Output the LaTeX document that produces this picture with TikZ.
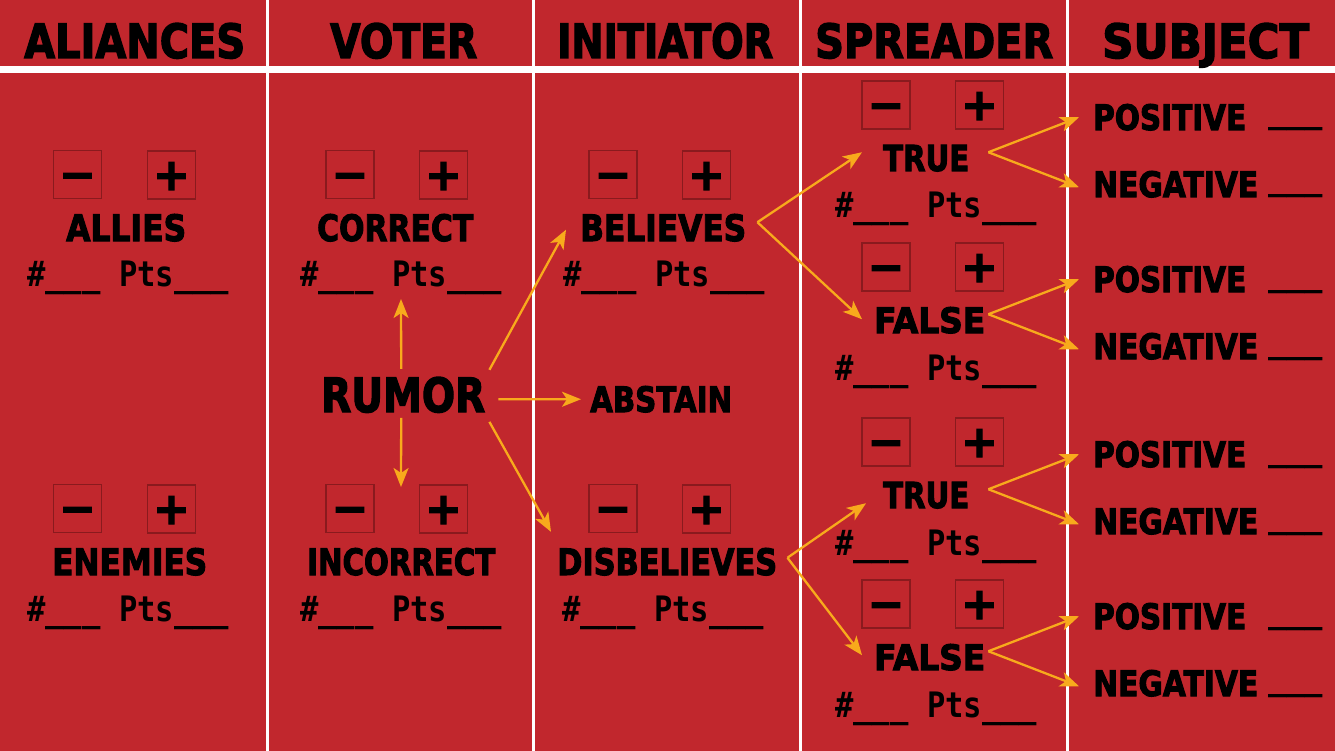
\documentclass[tikz,border=0pt]{standalone}
\usepackage{fontspec}
\usepackage{graphicx}
\setmainfont{DejaVu Sans}
\newfontfamily\heavyfont{DejaVu Sans}[BoldFeatures={FakeBold=3}]
\newfontfamily\scorefont{DejaVu Sans Mono}
\usetikzlibrary{arrows.meta,calc}

\definecolor{bgred}{RGB}{193,39,45}
\definecolor{boxred}{RGB}{138,26,30}
\definecolor{arrowgold}{RGB}{248,170,28}

% heavy capital label stretched to a given width and cap height
\newcommand\blk[3]{\resizebox{#1pt}{#2pt}{\heavyfont\bfseries #3}}
% score line and answer blank
\newcommand\ptsline{\scalebox{1}[1.15]{\scorefont\bfseries\fontsize{30.5}{30.5}\selectfont\#\_\_\_ Pts\_\_\_}}
\newcommand\scoreblank{\scalebox{1}[1.15]{\scorefont\bfseries\fontsize{30.5}{30.5}\selectfont\_\_\_}}

\tikzset{
  lab/.style={anchor=base west, inner sep=0pt, text=black},
  signbox/.style={draw=boxred, minimum size=48pt, inner sep=0pt, text=black,
    font=\heavyfont\fontsize{44}{44}\selectfont\bfseries, text height=30pt, text depth=0pt},
  minusbox/.style={signbox, line width=1.8pt},
  plusbox/.style={signbox, line width=1.2pt},
  arr/.style={draw=arrowgold, line width=2.3pt,
    -{Stealth[length=19pt,width=15pt,inset=5pt]}},
}

\begin{document}
\begin{tikzpicture}[x=1pt,y=-1pt]
  \fill[bgred] (0,0) rectangle (1335,751);
  \useasboundingbox (0,0) rectangle (1335,751);

  % column rules and header rule
  \fill[white] (0,66) rectangle (1335,73);
  \foreach \x in {267,533.5,800,1067}
    \fill[white] (\x-1.5,0) rectangle (\x+1.5,751);

  % headers
  \node[lab] (hAl) at (24,58)   {\blk{221}{35}{ALIANCES}};
  \node[lab] (hVo) at (330,58)  {\blk{147}{35}{VOTER}};
  \node[lab] (hIn) at (557,58)  {\blk{216}{35}{INITIATOR}};
  \node[lab] (hSp) at (815,58)  {\blk{238}{35}{SPREADER}};
  \node[lab] (hSu) at (1102,58) {\blk{207}{35}{SUBJECT}};

  % alliances column
  \node[minusbox] (am1) at (77.5,174.5) {−};
  \node[plusbox]  (ap1) at (171.5,175)  {+};
  \node[lab] (allies) at (66,241) {\blk{120}{27}{ALLIES}};
  \node[lab] (apts1) at (27,287) {\ptsline};
  \node[minusbox] (am2) at (77.5,508.5) {−};
  \node[plusbox]  (ap2) at (171.5,509)  {+};
  \node[lab] (enemies) at (52,575) {\blk{155}{27}{ENEMIES}};
  \node[lab] (apts2) at (27,621) {\ptsline};

  % voter column
  \node[minusbox] (vm1) at (350,174.5) {−};
  \node[plusbox]  (vp1) at (443.5,175) {+};
  \node[lab] (correct) at (317,241) {\blk{156}{27}{CORRECT}};
  \node[lab] (vpts1) at (300,287) {\ptsline};
  \node[lab] (rumor) at (321,412) {\blk{164}{35}{RUMOR}};
  \node[minusbox] (vm2) at (350,508.5) {−};
  \node[plusbox]  (vp2) at (443.5,509) {+};
  \node[lab] (incorrect) at (307,575) {\blk{188}{27}{INCORRECT}};
  \node[lab] (vpts2) at (300,621) {\ptsline};

  % initiator column
  \node[minusbox] (im1) at (613,174.5) {−};
  \node[plusbox]  (ip1) at (706.5,175) {+};
  \node[lab] (believes) at (580,241) {\blk{166}{27}{BELIEVES}};
  \node[lab] (ipts1) at (563,287) {\ptsline};
  \node[lab] (abstain) at (590,412) {\blk{142}{26}{ABSTAIN}};
  \node[minusbox] (im2) at (613,508.5) {−};
  \node[plusbox]  (ip2) at (706.5,509) {+};
  \node[lab] (disbelieves) at (557,575) {\blk{220}{27}{DISBELIEVES}};
  \node[lab] (ipts2) at (562,621) {\ptsline};

  % spreader blocks with their subject outcomes
  \foreach \k/\o/\lx/\w/\lbl/\d in {1/-162/883/86/TRUE/19, 2/0/874/111/FALSE/3,
                                    3/175/883/86/TRUE/19, 4/337/874/111/FALSE/3}{
    \node[minusbox] (sm\k) at (886,267+\o) {−};
    \node[plusbox]  (sp\k) at (979.5,267+\o) {+};
    \node[lab] (sv\k) at (\lx,333+\o) {\blk{\w}{26}{\lbl}};
    \node[lab] (spts\k) at (835,380+\o) {\ptsline};
    \node[lab] (pos\k) at (1093,292+\o) {\blk{153}{26}{POSITIVE}};
    \node[lab] (posb\k) at (1268,285+\o) {\scoreblank};
    \node[lab] (neg\k) at (1093,359+\o) {\blk{165}{26}{NEGATIVE}};
    \node[lab] (negb\k) at (1268,352+\o) {\scoreblank};
    \draw[arr] ($(sv\k.east)+(\d,-6)$) -- ($(pos\k.west)+(-14,0)$);
    \draw[arr] ($(sv\k.east)+(\d,-6)$) -- ($(neg\k.west)+(-14,3)$);
  }

  % rumor spreading out
  \coordinate (rumorup) at (401,299);
  \coordinate (rumordown) at (401,487);
  \draw[arr] ($(rumor.north)+(-2,-8)$) -- (rumorup);
  \draw[arr] ($(rumor.south)+(-2,5)$) -- (rumordown);
  \draw[arr] ($(rumor.east)+(13,4.5)$) -- ($(abstain.west)+(-9,0)$);
  \draw[arr] ($(rumor.north east)+(4,-7)$) -- ($(believes.south west)+(-14,-12)$);
  \draw[arr] ($(rumor.south east)+(4,9)$) -- ($(disbelieves.north west)+(-6,-16)$);

  % initiator to spreader
  \draw[arr] ($(believes.east)+(11,-5.5)$) -- ($(sv1.west)+(-21,-6)$);
  \draw[arr] ($(believes.east)+(11,-5.5)$) -- ($(sv2.west)+(-12,-1)$);
  \draw[arr] ($(disbelieves.east)+(10,-4)$) -- ($(sv3.west)+(-17,8)$);
  \draw[arr] ($(disbelieves.east)+(10,-4)$) -- ($(sv4.west)+(-12,-2)$);
\end{tikzpicture}
\end{document}
